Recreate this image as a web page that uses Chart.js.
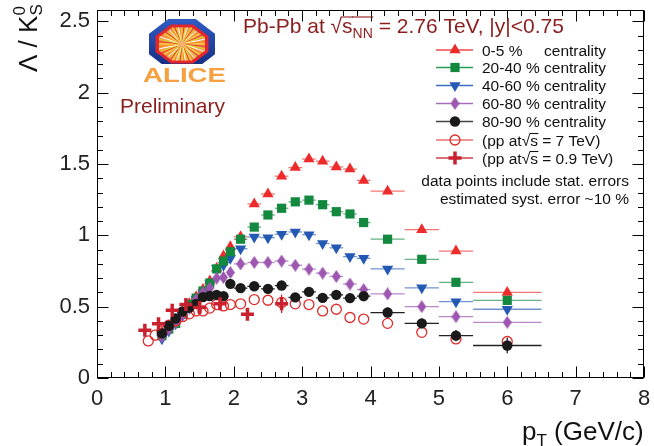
<!DOCTYPE html>
<html>
<head>
<meta charset="utf-8">
<script src="https://cdn.jsdelivr.net/npm/chart.js@4.4.1/dist/chart.umd.min.js"></script>
<style>
  html, body { margin: 0; padding: 0; background: #fff; }
</style>
</head>
<body>
<canvas id="c" width="654" height="446"></canvas>
<script>
/* Lambda / K0s ratio vs pT, Pb-Pb centrality classes + pp references */

const FONT = '"Liberation Sans", Arial, Helvetica, sans-serif';

// ── DATA ────────────────────────────────────────────────────
const ptBins = [0.95, 1.05, 1.15, 1.25, 1.35, 1.45, 1.55, 1.65, 1.75, 1.85, 1.95,
                2.1, 2.3, 2.5, 2.7, 2.9, 3.1, 3.3, 3.5, 3.7, 3.9,
                4.25, 4.75, 5.25, 6.0];
const ptHalf = [0.05, 0.05, 0.05, 0.05, 0.05, 0.05, 0.05, 0.05, 0.05, 0.05, 0.05,
                0.1, 0.1, 0.1, 0.1, 0.1, 0.1, 0.1, 0.1, 0.1, 0.1,
                0.25, 0.25, 0.25, 0.5];

const ratio0005 = [0.32, 0.36, 0.40, 0.46, 0.52, 0.57, 0.62, 0.68, 0.77, 0.855, 0.92,
                   0.99, 1.22, 1.29, 1.415, 1.475, 1.535, 1.52, 1.48, 1.465, 1.385,
                   1.31, 1.04, 0.89, 0.60];
const ratio2040 = [0.297, 0.343, 0.383, 0.447, 0.516, 0.56, 0.61, 0.666, 0.765, 0.82, 0.885,
                   0.973, 1.058, 1.143, 1.19, 1.235, 1.247, 1.215, 1.166, 1.15, 1.09,
                   0.973, 0.832, 0.671, 0.544];
const ratio4060 = [0.275, 0.33, 0.38, 0.44, 0.50, 0.55, 0.60, 0.66, 0.77, 0.79, 0.84,
                   0.906, 0.989, 0.984, 1.008, 1.024, 1.005, 0.943, 0.913, 0.851, 0.839,
                   0.765, 0.632, 0.535, 0.482];
const ratio6080 = [0.29, 0.34, 0.39, 0.44, 0.49, 0.55, 0.60, 0.63, 0.70, 0.705, 0.74,
                   0.80, 0.81, 0.81, 0.82, 0.79, 0.763, 0.735, 0.712, 0.659, 0.62,
                   0.59, 0.50, 0.43, 0.39];
const ratio8090 = [0.313, 0.366, 0.417, 0.466, 0.493, 0.52, 0.567, 0.575, 0.583, 0.574, 0.66,
                   0.63, 0.643, 0.625, 0.648, 0.565, 0.604, 0.562, 0.583, 0.56, 0.574,
                   0.459, 0.383, 0.297, 0.228];
const err8090   = [0.01, 0.01, 0.01, 0.01, 0.012, 0.012, 0.014, 0.015, 0.016, 0.018, 0.02,
                   0.02, 0.022, 0.024, 0.026, 0.028, 0.03, 0.03, 0.032, 0.034, 0.036,
                   0.035, 0.035, 0.04, 0.055];

// pp at 7 TeV
const ptPP7    = [0.75, 0.85, 0.95, 1.05, 1.15, 1.25, 1.35, 1.45, 1.55, 1.65, 1.75, 1.85, 1.95,
                  2.1, 2.3, 2.5, 2.7, 2.9, 3.1, 3.3, 3.5, 3.7, 3.9, 4.25, 4.75, 5.25, 6.0];
const ratioPP7 = [0.26, 0.30, 0.33, 0.37, 0.40, 0.43, 0.45, 0.47, 0.47, 0.49, 0.515, 0.505, 0.515,
                  0.52, 0.55, 0.545, 0.53, 0.52, 0.515, 0.47, 0.482, 0.424, 0.413, 0.383, 0.32, 0.274, 0.256];

// pp at 0.9 TeV
const ptPP09    = [0.7, 0.9, 1.1, 1.3, 1.5, 1.8, 2.2, 2.7];
const ratioPP09 = [0.335, 0.38, 0.475, 0.515, 0.495, 0.52, 0.447, 0.52];
const errPP09   = [0.01, 0.015, 0.02, 0.02, 0.025, 0.035, 0.04, 0.065];

const yTicks = [0, 0.5, 1, 1.5, 2, 2.5];

// ── STYLES ──────────────────────────────────────────────────
const COL = {
  c0005: '#ee2b2b', c2040: '#13893f', c4060: '#2459b3',
  c6080: '#9d57b0', c8090: '#1a1a1a', pp7: '#dd2b2b', pp09: '#c9222e',
  title: '#8c1d1d'
};

function diamond(color) {
  const c = document.createElement('canvas');
  c.width = 9; c.height = 13;
  const g = c.getContext('2d');
  g.fillStyle = color;
  g.beginPath();
  g.moveTo(4.5, 0); g.lineTo(9, 6.5); g.lineTo(4.5, 13); g.lineTo(0, 6.5);
  g.closePath(); g.fill();
  return c;
}

const pts = (xs, ys) => xs.map((x, i) => ({ x, y: ys[i] }));

const datasets = [
  { label: '0-5 %', data: pts(ptBins, ratio0005), xErr: ptHalf, order: 6,
    pointStyle: 'triangle', pointRadius: 6.5, backgroundColor: COL.c0005, borderColor: COL.c0005,
    borderWidth: 0, errColor: 'rgba(238,43,43,0.65)' },
  { label: '20-40 %', data: pts(ptBins, ratio2040), xErr: ptHalf, order: 4,
    pointStyle: 'rect', pointRadius: 6.5, backgroundColor: COL.c2040, borderColor: COL.c2040,
    borderWidth: 0, errColor: 'rgba(19,137,63,0.65)' },
  { label: '40-60 %', data: pts(ptBins, ratio4060), xErr: ptHalf, order: 5,
    pointStyle: 'triangle', rotation: 180, pointRadius: 6.5, backgroundColor: COL.c4060, borderColor: COL.c4060,
    borderWidth: 0, errColor: 'rgba(36,89,179,0.65)' },
  { label: '60-80 %', data: pts(ptBins, ratio6080), xErr: ptHalf, order: 3,
    pointStyle: diamond(COL.c6080), pointRadius: 6, backgroundColor: COL.c6080, borderColor: COL.c6080,
    borderWidth: 0, errColor: 'rgba(157,87,176,0.7)' },
  { label: '80-90 %', data: pts(ptBins, ratio8090), xErr: ptHalf, yErr: err8090, order: 1,
    pointStyle: 'circle', pointRadius: 5.2, backgroundColor: COL.c8090, borderColor: COL.c8090,
    borderWidth: 0, errColor: '#222' },
  { label: 'pp 7 TeV', data: pts(ptPP7, ratioPP7), order: 2,
    pointStyle: 'circle', pointRadius: 5, backgroundColor: 'rgba(0,0,0,0)', borderColor: COL.pp7,
    borderWidth: 1.3 },
  { label: 'pp 0.9 TeV', data: pts(ptPP09, ratioPP09), yErr: errPP09, order: 0,
    pointStyle: 'cross', pointRadius: 6.5, backgroundColor: COL.pp09, borderColor: COL.pp09,
    borderWidth: 3.5, errColor: COL.pp09 }
];

// ── TEXT HELPERS ────────────────────────────────────────────
function runs(ctx, x, y, list, color, align) {
  ctx.save();
  ctx.fillStyle = color; ctx.strokeStyle = color;
  ctx.textAlign = 'left'; ctx.textBaseline = 'alphabetic';
  const w = list.map(r => { ctx.font = `${r.size}px ${FONT}`; return ctx.measureText(r.t).width; });
  let cx = align === 'right' ? x - w.reduce((a, b) => a + b, 0) : x;
  list.forEach((r, k) => {
    ctx.font = `${r.size}px ${FONT}`;
    ctx.fillText(r.t, cx, y + (r.dy || 0));
    if (r.over) {
      ctx.lineWidth = 1.1;
      ctx.beginPath();
      ctx.moveTo(cx - 0.5, y - r.over);
      ctx.lineTo(cx + w[k] + 0.5, y - r.over);
      ctx.stroke();
    }
    if (!r.stay) cx += w[k];
  });
  ctx.restore();
}

function octagon(ctx, cx, cy, rx, ry) {
  const k = 1 / Math.cos(Math.PI / 8);
  ctx.beginPath();
  for (let i = 0; i < 8; i++) {
    const a = Math.PI / 8 + i * Math.PI / 4;
    const px = cx + rx * k * Math.cos(a), py = cy + ry * k * Math.sin(a);
    i ? ctx.lineTo(px, py) : ctx.moveTo(px, py);
  }
  ctx.closePath();
}

function drawLogo(ctx) {
  const cx = 182, cy = 44;
  ctx.save();
  ctx.save();
  ctx.beginPath(); ctx.rect(140, 10, 90, 54); ctx.clip();
  const bg = ctx.createLinearGradient(0, 19, 0, 64);
  bg.addColorStop(0, '#2f5cc4'); bg.addColorStop(1, '#172f86');
  ctx.fillStyle = bg;
  octagon(ctx, cx, cy, 33, 25); ctx.fill();
  ctx.restore();
  ctx.fillStyle = '#e3262d';
  octagon(ctx, cx, cy, 26.5, 19.5); ctx.fill();
  ctx.save();
  octagon(ctx, cx, cy, 23, 16.5); ctx.clip();
  const rg = ctx.createRadialGradient(cx, cy, 1, cx, cy, 26);
  rg.addColorStop(0, '#f7b07a'); rg.addColorStop(1, '#f08a3a');
  ctx.fillStyle = rg; ctx.fillRect(cx - 30, cy - 25, 60, 50);
  const rays = ['#ffe53b', '#e8352a', '#d6df23', '#ffffff', '#f7941d'];
  ctx.lineWidth = 1;
  for (let i = 0; i < 60; i++) {
    const a = i * Math.PI * 2 / 60;
    ctx.strokeStyle = rays[i % rays.length];
    ctx.beginPath();
    ctx.moveTo(cx + 3 * Math.cos(a), cy + 3 * Math.sin(a));
    ctx.lineTo(cx + 32 * Math.cos(a), cy + 32 * Math.sin(a));
    ctx.stroke();
  }
  ctx.restore();
  // wordmark
  ctx.fillStyle = '#f6a042';
  ctx.font = `bold 21px ${FONT}`;
  const w = ctx.measureText('ALICE').width;
  ctx.translate(143, 82);
  ctx.scale(83 / w, 1);
  ctx.fillText('ALICE', 0, 0);
  ctx.restore();
}

// ── PLUGINS ─────────────────────────────────────────────────
const errorBars = {
  id: 'errorBars',
  beforeDatasetsDraw(chart) {
    const { ctx, scales: { x, y } } = chart;
    chart.data.datasets.forEach((ds, i) => {
      if (!ds.xErr && !ds.yErr) return;
      const meta = chart.getDatasetMeta(i);
      ctx.save();
      ctx.strokeStyle = ds.errColor || ds.borderColor;
      ctx.lineWidth = 1.3;
      meta.data.forEach((el, j) => {
        const d = ds.data[j];
        ctx.beginPath();
        if (ds.xErr) {
          ctx.moveTo(x.getPixelForValue(d.x - ds.xErr[j]), el.y);
          ctx.lineTo(x.getPixelForValue(d.x + ds.xErr[j]), el.y);
        }
        if (ds.yErr) {
          ctx.moveTo(el.x, y.getPixelForValue(d.y - ds.yErr[j]));
          ctx.lineTo(el.x, y.getPixelForValue(d.y + ds.yErr[j]));
        }
        ctx.stroke();
      });
      ctx.restore();
    });
  }
};

const frame = {
  id: 'frame',
  afterDraw(chart) {
    const { ctx, chartArea: a, scales: { x, y } } = chart;
    const L = Math.round(a.left) + 0.5, R = Math.round(a.right) - 0.5;
    const T = Math.round(a.top) + 0.5, B = Math.round(a.bottom) - 0.5;
    ctx.save();
    ctx.strokeStyle = '#000';
    ctx.lineWidth = 1;
    ctx.strokeRect(L, T, R - L, B - T);
    ctx.beginPath();
    for (let i = 0; i <= 40; i++) {
      const px = Math.round(x.getPixelForValue(i * 0.2)) + 0.5;
      const len = i % 5 === 0 ? 11 : 5.5;
      ctx.moveTo(px, B); ctx.lineTo(px, B - len);
      ctx.moveTo(px, T); ctx.lineTo(px, T + len);
    }
    for (let i = 0; i <= 25; i++) {
      const py = Math.round(y.getPixelForValue(i * 0.1)) + 0.5;
      const len = i % 5 === 0 ? 11 : 5.5;
      ctx.moveTo(L, py); ctx.lineTo(L + len, py);
      ctx.moveTo(R, py); ctx.lineTo(R - len, py);
    }
    ctx.stroke();
    ctx.restore();

    // axis titles
    runs(ctx, 522, 440, [
      { t: 'p', size: 26 }, { t: 'T', size: 17, dy: 6 }, { t: ' (GeV/c)', size: 26 }
    ], '#111');
    ctx.save();
    ctx.translate(37, 72);
    ctx.rotate(-Math.PI / 2);
    runs(ctx, 0, 0, [
      { t: '\u039B / K', size: 26 }, { t: 'S', size: 17, dy: 5, stay: true }, { t: '0', size: 17, dy: -12 }
    ], '#111');
    ctx.restore();

    // header text
    runs(ctx, 243, 33, [
      { t: 'Pb-Pb at ', size: 21 }, { t: '\u221A', size: 21 },
      { t: 's', size: 21, over: 16 }, { t: 'NN', size: 14, dy: 5, over: 16 },
      { t: ' = 2.76 TeV, |y|<0.75', size: 21 }
    ], COL.title);
    runs(ctx, 120, 113, [{ t: 'Preliminary', size: 21 }], COL.title);
    drawLogo(ctx);

    // legend
    const rows = [50, 67.5, 85.5, 103.5, 121.5, 140, 158];
    const lineCol = ['#f04a4a', '#2a9a55', '#3a6cc0', '#a86bbb', '#444', '#e87070', '#d0404a'];
    ctx.font = `15.5px ${FONT}`;
    const centX = 482 + ctx.measureText('20-40 % ').width;
    datasets.forEach((ds, i) => {
      const yc = rows[i];
      ctx.save();
      ctx.strokeStyle = lineCol[i];
      ctx.lineWidth = 1.4;
      ctx.beginPath(); ctx.moveTo(436, yc); ctx.lineTo(473, yc); ctx.stroke();
      ctx.fillStyle = ds.backgroundColor;
      ctx.strokeStyle = ds.borderColor;
      ctx.lineWidth = ds.borderWidth;
      Chart.helpers.drawPoint(ctx, {
        pointStyle: ds.pointStyle, radius: ds.pointRadius, rotation: ds.rotation || 0,
        borderWidth: ds.borderWidth
      }, 455, yc);
      ctx.restore();
    });
    const by = v => v + 5.5;
    runs(ctx, 482, by(rows[0]), [{ t: '0-5 %', size: 15.5 }], '#111');
    runs(ctx, centX, by(rows[0]), [{ t: 'centrality', size: 15.5 }], '#111');
    ['20-40', '40-60', '60-80', '80-90'].forEach((c, k) =>
      runs(ctx, 482, by(rows[k + 1]), [{ t: c + ' % centrality', size: 15.5 }], '#111'));
    runs(ctx, 482, by(rows[5]), [
      { t: '(pp at', size: 15.5 }, { t: '\u221A', size: 15.5 }, { t: 's', size: 15.5, over: 12 },
      { t: ' = 7 TeV)', size: 15.5 }], '#111');
    runs(ctx, 482, by(rows[6]), [
      { t: '(pp at', size: 15.5 }, { t: '\u221A', size: 15.5 }, { t: 's', size: 15.5, over: 12 },
      { t: ' = 0.9 TeV)', size: 15.5 }], '#111');
    runs(ctx, 629, 185.5, [{ t: 'data points include stat. errors', size: 15.5 }], '#111', 'right');
    runs(ctx, 629, 204, [{ t: 'estimated syst. error ~10 %', size: 15.5 }], '#111', 'right');
  }
};

// ── CHART ───────────────────────────────────────────────────
new Chart(document.getElementById('c'), {
  type: 'scatter',
  data: { datasets },
  options: {
    responsive: false,
    animation: false,
    layout: { padding: { top: 5, right: 5, left: 0, bottom: 0 } },
    plugins: { legend: { display: false }, tooltip: { enabled: false } },
    scales: {
      x: {
        type: 'linear', min: 0, max: 8,
        grid: { display: false, drawTicks: false },
        border: { display: false },
        ticks: { stepSize: 1, padding: 8, maxRotation: 0, color: '#222', font: { family: FONT, size: 22 } },
        afterFit: s => { s.height = 68; s.paddingLeft = 0; s.paddingRight = 0; }
      },
      y: {
        type: 'linear', min: 0, max: 2.58,
        grid: { display: false, drawTicks: false },
        border: { display: false },
        ticks: { padding: 7, color: '#222', font: { family: FONT, size: 22 }, callback: v => String(v) },
        afterBuildTicks: s => { s.ticks = yTicks.map(v => ({ value: v })); },
        afterFit: s => { s.width = 97; s.paddingTop = 0; s.paddingBottom = 0; }
      }
    }
  },
  plugins: [errorBars, frame]
});
</script>
</body>
</html>
